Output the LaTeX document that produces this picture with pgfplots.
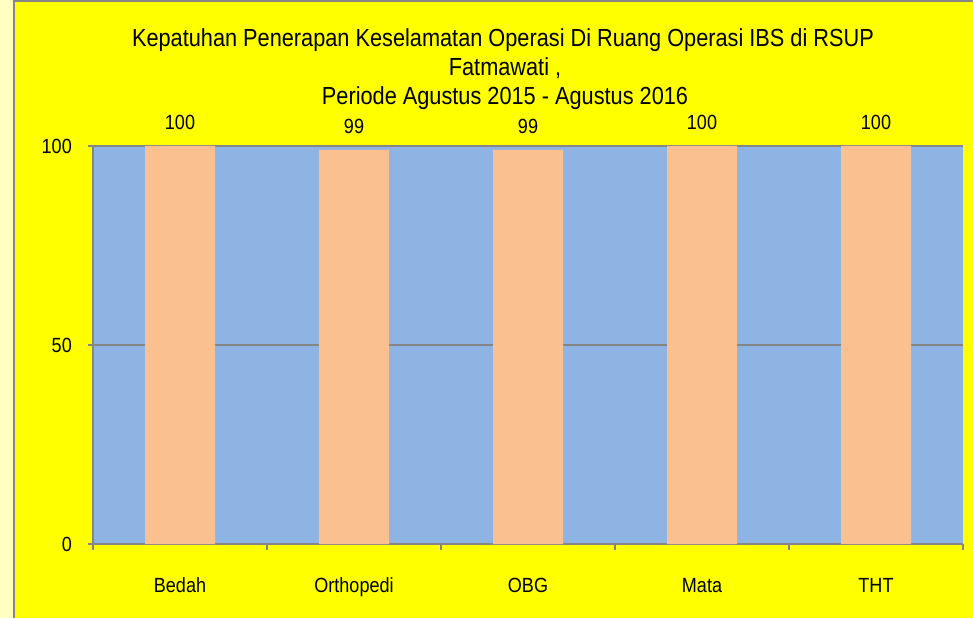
\documentclass[border=0pt]{standalone}
\usepackage{fontspec}
\setmainfont{Liberation Sans}[FakeStretch=0.88]
\usepackage{pgfplots}
\pgfplotsset{compat=1.18}
\definecolor{bgyel}{RGB}{255,255,0}
\definecolor{strip}{RGB}{255,255,196}
\definecolor{plotblue}{RGB}{142,180,227}
\definecolor{barorange}{RGB}{250,192,144}
\definecolor{axgray}{RGB}{134,134,134}
\begin{document}
\begin{tikzpicture}[x=1pt,y=1pt]
\useasboundingbox (0,0) rectangle (973,618);
\fill[bgyel] (0,0) rectangle (973,618);
\fill[strip] (0,0) rectangle (13,618);
\draw[axgray, line width=2pt] (14,0) -- (14,618);
\draw[axgray, line width=2pt] (14,617) -- (973,617);
\node[anchor=base, font=\fontsize{24.7}{29}\selectfont, inner sep=0pt] at (503,571) {Kepatuhan Penerapan Keselamatan Operasi Di Ruang Operasi IBS di RSUP};
\node[anchor=base, font=\fontsize{24.7}{29}\selectfont, inner sep=0pt] at (505,542) {Fatmawati ,};
\node[anchor=base, font=\fontsize{24.7}{29}\selectfont, inner sep=0pt] at (505,513) {Periode Agustus 2015 - Agustus 2016};
\begin{axis}[
  at={(93pt,74pt)}, anchor=south west,
  scale only axis, width=870pt, height=398pt,
  xmin=-0.5, xmax=4.5, ymin=0, ymax=100,
  axis background/.style={fill=plotblue},
  axis lines*=left,
  axis line style={axgray, line width=2pt},
  xtick={0,1,2,3,4},
  xticklabels={Bedah,Orthopedi,OBG,Mata,THT},
  major x tick style={draw=none},
  minor xtick={-0.5,0.5,1.5,2.5,3.5,4.5},
  minor x tick style={axgray, line width=1.5pt},
  minor tick length=6pt,
  ytick={0,50,100},
  major y tick style={axgray, line width=1.5pt},
  major tick length=5pt,
  tick align=outside,
  ymajorgrids, grid style={axgray, line width=1.3pt},
  /pgf/number format/assume math mode=true,
  tick label style={font=\fontsize{20.5}{24}\selectfont},
  xticklabel style={anchor=base, yshift=-43pt, inner sep=0pt},
  yticklabel style={anchor=east, xshift=-16pt, inner sep=0pt},
  clip=false,
]
\addplot[ybar, fill=barorange, draw=none, bar width=70pt, bar shift=0pt,
  nodes near coords,
  every node near coord/.append style={anchor=base, yshift=16pt, inner sep=0pt, font=\fontsize{20.5}{24}\selectfont, black, /pgf/number format/assume math mode=true}]
  coordinates {(0,100) (1,99) (2,99) (3,100) (4,100)};
\end{axis}
\end{tikzpicture}
\end{document}
